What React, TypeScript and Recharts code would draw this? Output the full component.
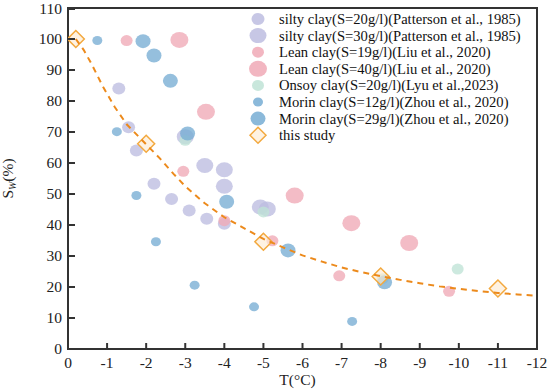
import {
  ScatterChart,
  Scatter,
  XAxis,
  YAxis,
  Legend,
  ReferenceArea,
} from 'recharts';

// Sw (%) vs T (°C)
const siltyClay20 = [
  { t: -1.3, s: 84 }, { t: -1.55, s: 71.5 }, { t: -1.75, s: 64 }, { t: -2.2, s: 53.3 },
  { t: -2.65, s: 48.4 }, { t: -3.1, s: 44.7 }, { t: -3.55, s: 42 }, { t: -4.0, s: 40.4 },
];
const siltyClay30 = [
  { t: -3.0, s: 68.5 }, { t: -3.5, s: 59.2 }, { t: -4.0, s: 57.8 }, { t: -4.0, s: 52.5 },
  { t: -4.92, s: 45.8 }, { t: -5.1, s: 45.2 },
];
const leanClay19 = [
  { t: -1.5, s: 99.5 }, { t: -2.95, s: 57.3 }, { t: -4.0, s: 41.4 }, { t: -5.23, s: 34.9 },
  { t: -6.94, s: 23.6 }, { t: -9.75, s: 18.6 },
];
const leanClay40 = [
  { t: -2.85, s: 99.7 }, { t: -3.53, s: 76.5 }, { t: -5.8, s: 49.5 }, { t: -7.25, s: 40.6 },
  { t: -8.73, s: 34.2 },
];
const onsoyClay20 = [
  { t: -3.0, s: 67.3 }, { t: -5.0, s: 44.2 }, { t: -8.05, s: 22.7 }, { t: -9.97, s: 25.8 },
];
const morinClay12 = [
  { t: -0.75, s: 99.5 }, { t: -1.25, s: 70.1 }, { t: -1.75, s: 49.5 }, { t: -2.25, s: 34.6 },
  { t: -3.24, s: 20.6 }, { t: -4.76, s: 13.6 }, { t: -7.27, s: 8.9 },
];
const morinClay29 = [
  { t: -1.92, s: 99.3 }, { t: -2.2, s: 94.7 }, { t: -2.62, s: 86.5 }, { t: -3.06, s: 69.5 },
  { t: -4.06, s: 47.5 }, { t: -5.63, s: 31.8 }, { t: -8.1, s: 21.5 },
];
const thisStudy = [
  { t: -0.2, s: 100 }, { t: -2, s: 66.2 }, { t: -5, s: 34.6 }, { t: -8, s: 23.4 }, { t: -11, s: 19.5 },
];
// dashed fitted curve
const fitCurve = [
  { t: -0.2, s: 100 }, { t: -0.4, s: 96.5 }, { t: -0.6, s: 92 }, { t: -0.9, s: 84.5 },
  { t: -1.2, s: 78 }, { t: -1.5, s: 72.5 }, { t: -2, s: 66 }, { t: -2.35, s: 61.5 },
  { t: -2.7, s: 56.5 }, { t: -3, s: 52.5 }, { t: -3.5, s: 47 }, { t: -4, s: 42.5 },
  { t: -4.5, s: 39 }, { t: -5, s: 35.5 }, { t: -5.5, s: 32.8 }, { t: -6, s: 30.2 },
  { t: -6.5, s: 28.2 }, { t: -7, s: 26.3 }, { t: -7.5, s: 24.8 }, { t: -8, s: 23.5 },
  { t: -8.5, s: 22.3 }, { t: -9, s: 21.2 }, { t: -9.5, s: 20.2 }, { t: -10, s: 19.4 },
  { t: -10.5, s: 18.7 }, { t: -11, s: 18.1 }, { t: -11.5, s: 17.6 }, { t: -12, s: 17.2 },
];

const xTicks = [0, -1, -2, -3, -4, -5, -6, -7, -8, -9, -10, -11, -12];
const yTicks = [0, 10, 20, 30, 40, 50, 60, 70, 80, 90, 100, 110];

const FONT = '"Liberation Serif", "Times New Roman", serif';
const AXIS = '#333';

const series = [
  { name: 'silty clay(S=20g/l)(Patterson et al., 1985)', data: siltyClay20, color: '#bdbde0', rx: 6.5, ry: 6 },
  { name: 'silty clay(S=30g/l)(Patterson et al., 1985)', data: siltyClay30, color: '#bdbde0', rx: 8.5, ry: 7.5 },
  { name: 'Lean clay(S=19g/l)(Liu et al., 2020)', data: leanClay19, color: '#f0a9b6', rx: 6, ry: 5.5 },
  { name: 'Lean clay(S=40g/l)(Liu et al., 2020)', data: leanClay40, color: '#f0a9b6', rx: 9, ry: 8 },
  { name: 'Onsoy clay(S=20g/l)(Lyu et al.,2023)', data: onsoyClay20, color: '#bfe3d6', rx: 6, ry: 5.5 },
  { name: 'Morin clay(S=12g/l)(Zhou et al., 2020)', data: morinClay12, color: '#77add3', rx: 5, ry: 4.5 },
  { name: 'Morin clay(S=29g/l)(Zhou et al., 2020)', data: morinClay29, color: '#77add3', rx: 7.5, ry: 7 },
];

const Diamond = ({ cx, cy, r = 8.5 }: any) => (
  <polygon
    points={`${cx},${cy - r} ${cx + r},${cy} ${cx},${cy + r} ${cx - r},${cy}`}
    fill="#fdebd2"
    fillOpacity={0.65}
    stroke="#f3a93f"
    strokeWidth={1.5}
  />
);

const YTick = ({ x, y, payload }: any) => (
  <g>
    <line x1={x} y1={y} x2={x + 7} y2={y} stroke={AXIS} strokeWidth={2} />
    <text x={x - 6} y={y} dy={5} textAnchor="end" fontFamily={FONT} fontSize={15.5} fill="#222">
      {payload.value}
    </text>
  </g>
);

const XTick = ({ x, y, payload }: any) => (
  <g>
    <line x1={x} y1={y} x2={x} y2={y - 6} stroke={AXIS} strokeWidth={2} />
    <text x={x} y={y + 19} textAnchor="middle" fontFamily={FONT} fontSize={15.5} fill="#222">
      {payload.value}
    </text>
  </g>
);

const LegendBox = () => (
  <svg width={295} height={145}>
    {series.map((s, i) => (
      <g key={s.name}>
        <ellipse cx={10} cy={10 + i * 16.6} rx={s.rx} ry={s.ry} fill={s.color} fillOpacity={0.85} />
        <text x={31} y={15 + i * 16.6} fontFamily={FONT} fontSize={14.6} fill="#111">
          {s.name}
        </text>
      </g>
    ))}
    <Diamond cx={10} cy={10 + 7 * 16.6} r={8} />
    <text x={31} y={15 + 7 * 16.6} fontFamily={FONT} fontSize={14.6} fill="#111">
      this study
    </text>
  </svg>
);

export default function App() {
  return (
    <div style={{ position: 'absolute', left: 0, top: 0, width: 550, height: 389, background: '#fff' }}>
      <ScatterChart width={550} height={389} margin={{ top: 8, right: 13, left: 0, bottom: 0 }}>
        <XAxis
          type="number"
          dataKey="t"
          domain={[-12, 0]}
          ticks={xTicks}
          reversed
          height={40}
          tickSize={0}
          tickMargin={0}
          tick={<XTick />}
          axisLine={{ stroke: AXIS, strokeWidth: 2 }}
          allowDataOverflow
          label={({ viewBox }: any) => (
            <text
              x={viewBox.x + viewBox.width / 2 - 5}
              y={385}
              textAnchor="middle"
              fontFamily={FONT}
              fontSize={15.5}
              fill="#222"
            >
              T(°C)
            </text>
          )}
        />
        <YAxis
          type="number"
          dataKey="s"
          domain={[0, 110]}
          ticks={yTicks}
          width={68}
          tickSize={0}
          tickMargin={0}
          tick={<YTick />}
          axisLine={{ stroke: AXIS, strokeWidth: 2 }}
          label={({ viewBox }: any) => {
            const cx = 13;
            const cy = viewBox.y + viewBox.height / 2;
            return (
              <text
                x={cx}
                y={cy}
                transform={`rotate(-90, ${cx}, ${cy})`}
                textAnchor="middle"
                fontFamily={FONT}
                fontSize={15.5}
                fill="#222"
              >
                S
                <tspan fontSize={10} dy={3} fontStyle="italic">W</tspan>
                <tspan dy={-3}>(%)</tspan>
              </text>
            );
          }}
        />
        <ReferenceArea x1={-12} x2={0} y1={0} y2={110} fill="none" stroke={AXIS} strokeWidth={2} />
        {series.map(s => (
          <Scatter
            key={s.name}
            name={s.name}
            data={s.data}
            isAnimationActive={false}
            shape={(p: any) => (
              <ellipse cx={p.cx} cy={p.cy} rx={s.rx} ry={s.ry} fill={s.color} fillOpacity={0.78} />
            )}
          />
        ))}
        <Scatter
          name="this study"
          data={thisStudy}
          isAnimationActive={false}
          shape={(p: any) => <Diamond cx={p.cx} cy={p.cy} />}
        />
        <Scatter
          name="fit"
          data={fitCurve}
          isAnimationActive={false}
          line={{ stroke: '#ec8a1c', strokeWidth: 2, strokeDasharray: '6 5' }}
          lineType="joint"
          shape={() => <g />}
          legendType="none"
        />
        <Legend
          layout="horizontal"
          verticalAlign="middle"
          align="center"
          content={() => <LegendBox />}
          wrapperStyle={{ left: 248, top: 9, width: 295, height: 145 }}
        />
      </ScatterChart>
    </div>
  );
}
